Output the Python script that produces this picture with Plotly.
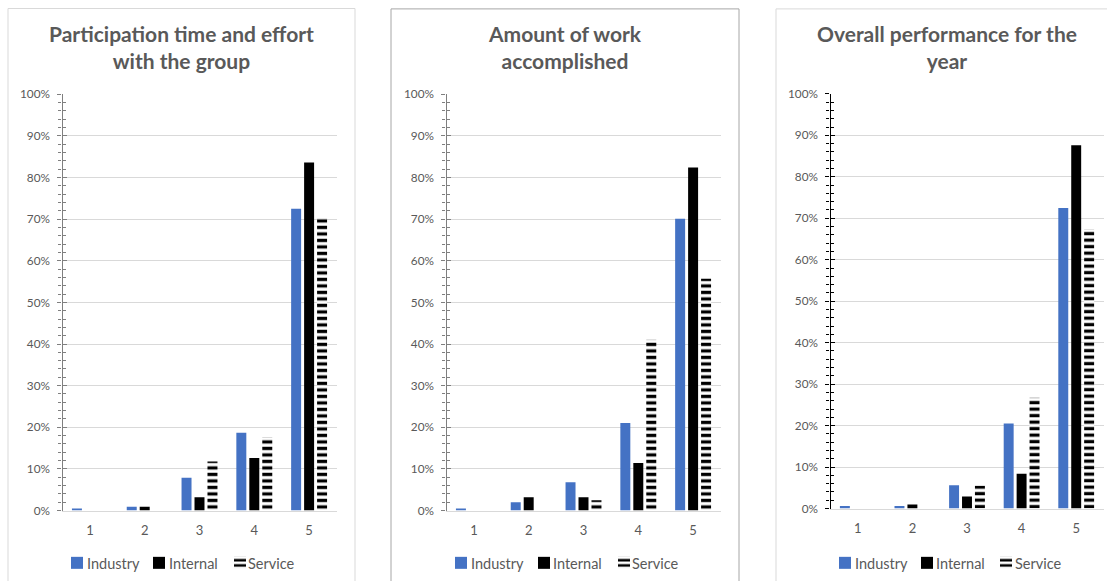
import plotly.graph_objects as go

categories = ["1", "2", "3", "4", "5"]
series_names = ["Industry", "Internal", "Service"]
titles = ["Participation time and effort<br>with the group",
          "Amount of work<br>accomplished",
          "Overall performance for the<br>year"]

participation_industry = [0.5, 0.9, 7.9, 18.7, 72.5]
participation_internal = [0.0, 0.9, 3.2, 12.6, 83.6]
participation_service = [0.0, 0.0, 11.8, 17.6, 70.3]

work_industry = [0.5, 2.0, 6.8, 21.0, 70.1]
work_internal = [0.0, 3.2, 3.2, 11.4, 82.4]
work_service = [0.0, 0.0, 2.5, 41.0, 55.7]

overall_industry = [0.6, 0.6, 5.6, 20.5, 72.5]
overall_internal = [0.0, 1.0, 2.9, 8.4, 87.6]
overall_service = [0.0, 0.0, 5.5, 26.7, 67.4]

y_ticks = [0, 10, 20, 30, 40, 50, 60, 70, 80, 90, 100]
y_tick_labels = ["0%", "10%", "20%", "30%", "40%", "50%", "60%", "70%", "80%", "90%", "100%"]

panels = [
    [participation_industry, participation_internal, participation_service],
    [work_industry, work_internal, work_service],
    [overall_industry, overall_internal, overall_service],
]

W, H = 1107, 581
FONT = "Lato, Carlito, Calibri, sans-serif"
GRAY = "#595959"
BLUE = "#4472C4"

# vertical placement helper (compensates for the page's vertical offset/scale)
V_OFF, V_SCALE = 8.4, 0.971


def pyf(px):
    s = (px - V_OFF) / V_SCALE
    return (H - s) / H


# plot area geometry (px, target picture)
plot_x = [(62.5, 336.5), (446.5, 720.5), (830.5, 1103.5)]
plot_y = [(94.3, 509.3), (94.3, 509.3), (94.0, 507.3)]
panel_box = [(8, 355, 8.9, "#d9d9d9"), (391, 739, 9.3, "#a6a6a6"), (776, 1200, 9.3, "#d9d9d9")]
axis_colors = ["#7f7f7f", "#7f7f7f", "#000000"]
title_centers = [181, 565, 947]
# legend symbol centres and legend text starts (px)
legend_sym_x = [[77, 159, 240], [461, 544, 624], [845, 927, 1006]]
legend_txt_x = [[86, 168, 247], [470, 551.5, 630.5], [854, 935, 1014]]
LEGEND_Y = 561.5

fig = go.Figure()

layout = dict(
    width=W, height=H, margin=dict(l=0, r=0, t=0, b=0),
    paper_bgcolor="white", plot_bgcolor="white",
    barmode="group", bargap=0.29, bargroupgap=0.23,
    font=dict(family=FONT, color=GRAY, size=12),
    showlegend=True,
)

shapes = []
annotations = []

for p, vals in enumerate(panels):
    xa = "x" if p == 0 else f"x{p+1}"
    ya = "y" if p == 0 else f"y{p+1}"
    for s, name in enumerate(series_names):
        k = p * 3 + s + 1
        lg = "legend" if k == 1 else f"legend{k}"
        kw = dict(x=categories, y=vals[s], name=" ", xaxis=xa, yaxis=ya,
                  legend=lg, marker_line_width=0,
                  hovertemplate=name + ": %{y}%<extra></extra>")
        if s == 0:
            kw["marker_color"] = BLUE
        elif s == 1:
            kw["marker_color"] = "#000000"
        else:
            kw["marker"] = dict(color="white", line_width=0,
                                pattern=dict(shape="-", fgcolor="#000000", bgcolor="#ffffff",
                                             size=6.5, solidity=0.5, fillmode="replace"))
        fig.add_trace(go.Bar(**kw))
        layout[lg] = dict(
            orientation="h", x=(legend_sym_x[p][s] - 20) / W, xanchor="left",
            y=pyf(LEGEND_Y), yanchor="middle",
            font=dict(size=14.5, color=GRAY, family=FONT), bgcolor="rgba(0,0,0,0)",
            itemclick=False, itemdoubleclick=False,
        )
        annotations.append(dict(text=name, xref="paper", yref="paper",
                                x=legend_txt_x[p][s] / W, y=pyf(LEGEND_Y + 0.5),
                                xanchor="left", yanchor="middle", showarrow=False,
                                xshift=-1, font=dict(size=14.5, color=GRAY, family=FONT)))
    # overlay axis for inside ticks (crossing tick marks)
    fig.add_trace(go.Scatter(x=[], y=[], xaxis=xa, yaxis=f"y{p+4}", showlegend=False))

for p in range(3):
    sx = "" if p == 0 else str(p + 1)
    x0, x1 = plot_x[p]
    y0, y1 = plot_y[p]
    ac = axis_colors[p]
    layout[f"xaxis{sx}"] = dict(
        domain=[x0 / W, x1 / W], anchor=f"y{sx}", range=[-0.5, 4.5],
        showline=True, linecolor="#d9d9d9", linewidth=1, ticks="",
        tickfont=dict(size=13, color=GRAY, family=FONT), ticklabelstandoff=8,
        showgrid=False, zeroline=False, fixedrange=True,
    )
    layout[f"yaxis{sx}"] = dict(
        domain=[pyf(y1), pyf(y0)], anchor=f"x{sx}", range=[0, 100],
        tickmode="array", tickvals=y_ticks, ticktext=y_tick_labels,
        showgrid=True, gridcolor="#d9d9d9", gridwidth=1,
        showline=True, linecolor=ac, linewidth=1.3, zeroline=False,
        ticks="outside", ticklen=4, tickwidth=1.2, tickcolor=ac,
        minor=dict(ticks="outside", dtick=2, ticklen=3, tickwidth=1, tickcolor=ac, showgrid=False),
        tickfont=dict(size=11.8, color=GRAY, family=FONT), ticklabelstandoff=5,
        fixedrange=True,
    )
    layout[f"yaxis{p+4}"] = dict(
        overlaying=f"y{sx}", anchor=f"x{sx}", side="left", range=[0, 100],
        tickmode="array", tickvals=y_ticks, showticklabels=False, showgrid=False, zeroline=False,
        showline=False, ticks="inside", ticklen=4, tickwidth=1.2, tickcolor=ac,
        minor=dict(ticks="inside", dtick=2, ticklen=3, tickwidth=1, tickcolor=ac, showgrid=False),
        fixedrange=True,
    )
    bx0, bx1, by, bc = panel_box[p]
    shapes.append(dict(type="rect", xref="paper", yref="paper",
                       x0=bx0 / W, x1=bx1 / W, y0=-0.2, y1=pyf(by),
                       line=dict(color=bc, width=1), fillcolor="rgba(0,0,0,0)", layer="below"))
    annotations.append(dict(text=f"<b>{titles[p]}</b>", xref="paper", yref="paper",
                            x=title_centers[p] / W, y=pyf(47.5), xanchor="center", yanchor="middle",
                            showarrow=False, align="center",
                            font=dict(size=21, color=GRAY, family=FONT)))

layout["shapes"] = shapes
layout["annotations"] = annotations
fig.update_layout(**layout)

fig.write_html("out.html")
